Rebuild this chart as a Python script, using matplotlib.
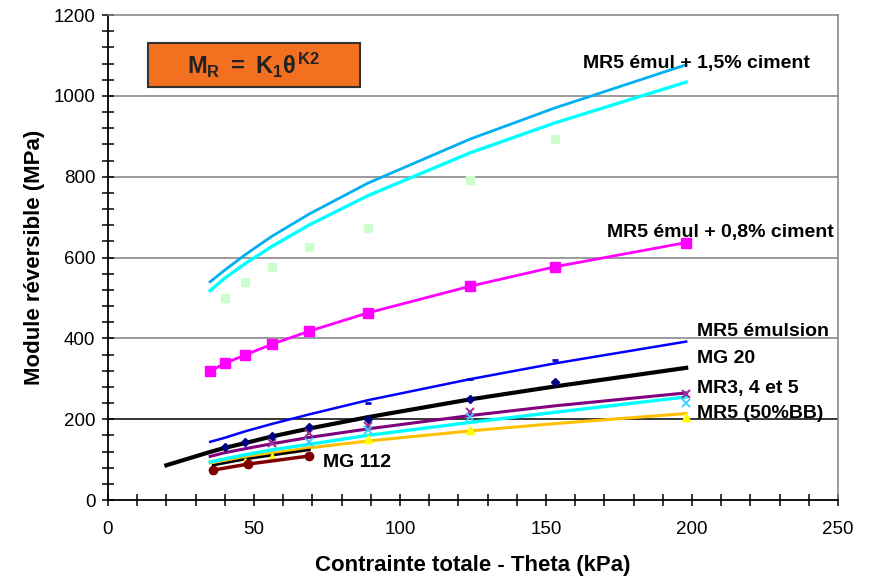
import matplotlib
matplotlib.use("Agg")
import matplotlib.pyplot as plt
from matplotlib.patches import Rectangle

plt.rcParams['font.family'] = ['Liberation Sans', 'DejaVu Sans']
plt.rcParams['mathtext.fontset'] = 'custom'
plt.rcParams['mathtext.rm'] = 'Liberation Sans:bold'
plt.rcParams['mathtext.it'] = 'Liberation Sans:bold'
plt.rcParams['mathtext.bf'] = 'Liberation Sans:bold'

# contrainte totale theta (kPa)
theta = [35, 40, 47, 56, 69, 89, 124, 153, 198]

# MR5 emul + 1,5% ciment : deux courbes de tendance + points mesures
fit_15a = [540, 569, 607, 652, 708, 784, 893, 970, 1077]
fit_15b = [518, 549, 585, 627, 681, 753, 859, 933, 1034]
pts_15_x = [40, 47, 56, 69, 89, 124, 153]
pts_15_y = [500, 540, 576, 627, 673, 792, 894]

# MR5 emul + 0,8% ciment
mr08 = [319, 338, 359, 385, 418, 463, 529, 577, 637]

# MR5 emulsion
emul_fit = [144, 154, 170, 188, 212, 247, 299, 338, 392]
emul_pts_x = [89, 124, 153]
emul_pts_y = [239, 299, 346]

# MG 20
mg20_x = [20, 35, 40, 47, 56, 69, 89, 124, 153, 198]
mg20_fit = [86, 119, 129, 141, 157, 177, 205, 249, 281, 327]
mg20_pts_x = [40, 47, 56, 69, 89, 124, 153]
mg20_pts_y = [130, 144, 158, 181, 200, 250, 293]

# MR3, 4 et 5
mr345_fit = [108, 117, 127, 139, 155, 176, 209, 233, 265]
mr345_pts_x = [56, 69, 89, 124, 198]
mr345_pts_y = [140, 166, 183, 218, 263]

# courbe cyan basse
cyan_fit = [94, 102, 112, 124, 138, 160, 192, 217, 255]
cyan_pts_x = [69, 89, 124, 198]
cyan_pts_y = [144, 173, 206, 239]

# MR5 (50%BB)
bb_fit = [92, 99, 107, 116, 129, 146, 171, 189, 214]
bb_pts_x = [47, 56, 89, 124, 198]
bb_pts_y = [95, 107, 150, 173, 205]

# MG 112
mg112_x = [36, 48, 69]
mg112_y = [74, 89, 109]
mg112_fit_x = [36, 47, 69]
mg112_fit = [86, 101, 124]

fig = plt.figure(figsize=(8.73, 5.80), dpi=100)
ax = fig.add_axes([0.1237, 0.1379, 0.8362, 0.8362])

for yv in [200, 400, 600, 800, 1000]:
    ax.axhline(yv, color='black' if yv == 200 else '#808080', lw=1.1, zorder=0)

ax.plot(pts_15_x, pts_15_y, 's', color='#CCFFCC', ms=6, zorder=1)
ax.plot(theta, fit_15a, color='#00B0F0', lw=2, zorder=3)
ax.plot(theta, fit_15b, color='#00FFFF', lw=2.4, zorder=3)

ax.plot(theta, mr08, '-s', color='#FF00FF', lw=2, ms=7, zorder=3)

ax.plot(theta, emul_fit, color='#0000FF', lw=1.8, zorder=3)
ax.plot(emul_pts_x, emul_pts_y, '_', color='#0000CC', ms=5, mew=2, zorder=4)

ax.plot(theta, mr345_fit, color='#800080', lw=2.2, zorder=3)
ax.plot(mr345_pts_x, mr345_pts_y, 'x', color='#993399', ms=6, mew=1.5, zorder=4)

ax.plot(theta, cyan_fit, color='#00FFFF', lw=2.4, zorder=3)
ax.plot(cyan_pts_x, cyan_pts_y, 'x', color='#33CCFF', ms=6, mew=1.3, zorder=4)

ax.plot(theta, bb_fit, color='#FFC000', lw=2.2, zorder=2)
ax.plot(bb_pts_x, bb_pts_y, '^', color='#FFFF00', ms=6, zorder=4)

ax.plot(mg20_x, mg20_fit, color='black', lw=3, zorder=3)
ax.plot(mg20_pts_x, mg20_pts_y, 'D', color='#000080', ms=4.5, zorder=4)

ax.plot(mg112_fit_x, mg112_fit, color='black', lw=1.8, zorder=3)
ax.plot(mg112_x, mg112_y, '-o', color='#800000', lw=2.5, ms=6, zorder=4)

lab = dict(fontsize=14, fontweight='bold', va='center', ha='left')
ax.text(162.7, 1079, 'MR5 émul + 1,5% ciment', **lab)
ax.text(170.9, 661, 'MR5 émul + 0,8% ciment', **lab)
ax.text(201.7, 416, 'MR5 émulsion', **lab)
ax.text(201.7, 349, 'MG 20', **lab)
ax.text(201.7, 275, 'MR3, 4 et 5', **lab)
ax.text(201.7, 213, 'MR5 (50%BB)', **lab)
ax.text(73.6, 92, 'MG 112', **lab)

ax.add_patch(Rectangle((0.0544, 0.852), 0.2906, 0.0896, transform=ax.transAxes,
                       facecolor='#F37021', edgecolor='#333333', lw=1.5, zorder=5))
ax.text(0.1997, 0.895, r'$\mathrm{M_R\ =\ K_1}\theta^{\mathrm{K2}}$', transform=ax.transAxes,
        fontsize=17, color='#222222', ha='center', va='center', zorder=6)

ax.set_xlim(0, 250)
ax.set_ylim(0, 1200)
ax.set_xticks(range(0, 251, 50))
ax.set_xticks(range(0, 251, 10), minor=True)
ax.set_yticks(range(0, 1201, 200))
ax.set_yticks(range(0, 1201, 40), minor=True)
ax.tick_params(which='both', direction='inout', length=8, width=1.1, labelsize=13.5)
ax.tick_params(axis='x', pad=11)
ax.tick_params(axis='y', pad=5)

for s in ['left', 'bottom']:
    ax.spines[s].set_color('black')
    ax.spines[s].set_linewidth(1.3)
for s in ['top', 'right']:
    ax.spines[s].set_color('#808080')
    ax.spines[s].set_linewidth(1.1)

ax.set_xlabel('Contrainte totale - Theta (kPa)', fontsize=16, fontweight='bold', labelpad=12)
ax.set_ylabel('Module réversible (MPa)', fontsize=16, fontweight='bold', labelpad=6)

fig.savefig('out.png', dpi=100)
